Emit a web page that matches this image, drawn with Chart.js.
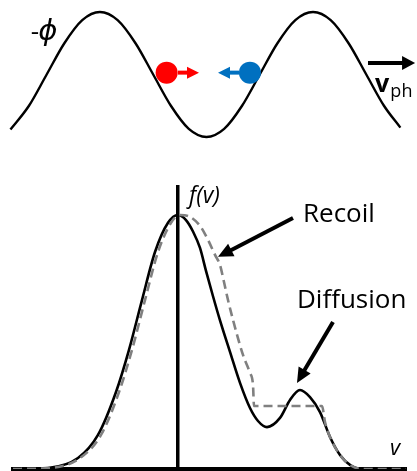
<!DOCTYPE html>
<html>
<head>
<meta charset="utf-8">
<script src="https://cdn.jsdelivr.net/npm/chart.js@4"></script>
<style>
  html, body { margin: 0; padding: 0; background: #fff; }
  #wrap { position: relative; width: 417px; height: 471px; overflow: hidden; background: #fff; }
  canvas { position: absolute; left: 0; }
  #wave { top: 0; }
  #dist { top: 150px; }
</style>
</head>
<body>
<div id="wrap">
  <canvas id="wave" width="417" height="150"></canvas>
  <canvas id="dist" width="417" height="321"></canvas>
</div>
<script>
// top panel: -phi along x, x in wavelengths (0 = first crest)
const waveX = [-0.42, -0.333, -0.25, -0.167, -0.083, 0, 0.083, 0.167, 0.25, 0.333, 0.417, 0.5,
  0.583, 0.667, 0.75, 0.833, 0.917, 1.0, 1.083, 1.167, 1.25, 1.333, 1.41];
const wavePhi = [-0.88, -0.5, 0, 0.5, 0.87, 1, 0.87, 0.5, 0, -0.5, -0.87, -1,
  -0.87, -0.5, 0, 0.5, 0.87, 1, 0.87, 0.5, 0, -0.5, -0.85];
const redDot = { x: 0.313, y: 0.03 };
const blueDot = { x: 0.704, y: 0.03 };

// bottom panel: f(v), before (solid) and after (dashed)
const solidV = [-4.125, -3.25, -2.5, -2.0, -1.55, -1.225, -0.9, -0.575, -0.25, 0, 0.2, 0.375, 0.55,
  0.7, 0.875, 1.05, 1.3, 1.55, 1.8, 2.0, 2.225, 2.55, 2.8, 3.05, 3.3, 3.55, 3.8, 4.05, 4.3, 4.6, 5.7];
const solidF = [0, 0.004, 0.043, 0.134, 0.303, 0.469, 0.665, 0.854, 0.969, 1.0, 0.98, 0.935, 0.87,
  0.78, 0.68, 0.585, 0.461, 0.339, 0.24, 0.189, 0.165, 0.201, 0.272, 0.311, 0.283, 0.224, 0.126, 0.055, 0.016, 0, 0];
const dashedV = [-4.125, -3.2, -2.45, -1.925, -1.475, -1.15, -0.825, -0.5, -0.175, 0.05, 0.25, 0.55,
  0.75, 0.925, 1.05, 1.15, 1.25, 1.375, 1.625, 1.8, 1.875, 1.9, 3.6, 3.675, 3.8, 4.05, 4.3, 4.6, 5.7];
const dashedF = [0, 0.004, 0.043, 0.134, 0.303, 0.469, 0.665, 0.854, 0.969, 1.0, 0.996, 0.957,
  0.902, 0.843, 0.803, 0.736, 0.665, 0.587, 0.449, 0.378, 0.331, 0.248, 0.248, 0.185, 0.126, 0.055, 0.016, 0, 0];

function pts(xs, ys) {
  return xs.map((x, i) => ({ x: x, y: ys[i] }));
}

function arrow(ctx, x1, y1, x2, y2, w, len, half, color) {
  const a = Math.atan2(y2 - y1, x2 - x1);
  const bx = x2 - Math.cos(a) * len, by = y2 - Math.sin(a) * len;
  ctx.save();
  ctx.strokeStyle = color;
  ctx.fillStyle = color;
  ctx.lineWidth = w;
  ctx.beginPath();
  ctx.moveTo(x1, y1);
  ctx.lineTo(bx + Math.cos(a), by + Math.sin(a));
  ctx.stroke();
  ctx.beginPath();
  ctx.moveTo(x2, y2);
  ctx.lineTo(bx - Math.sin(a) * half, by + Math.cos(a) * half);
  ctx.lineTo(bx + Math.sin(a) * half, by - Math.cos(a) * half);
  ctx.closePath();
  ctx.fill();
  ctx.restore();
}

function text(ctx, s, x, y, font, base) {
  ctx.save();
  ctx.fillStyle = '#000';
  ctx.font = font;
  ctx.textAlign = 'left';
  ctx.textBaseline = base || 'alphabetic';
  ctx.fillText(s, x, y);
  ctx.restore();
}

// annotations, placed in data units
const waveNotes = {
  id: 'waveNotes',
  afterDatasetsDraw(chart) {
    const ctx = chart.ctx, sx = chart.scales.x, sy = chart.scales.y;
    const X = (v) => sx.getPixelForValue(v), Y = (v) => sy.getPixelForValue(v);
    arrow(ctx, X(0.366), Y(0.03), X(0.465), Y(0.03), 4, 12, 6, '#ff0000');
    arrow(ctx, X(0.653), Y(0.03), X(0.554), Y(0.03), 4, 12, 6, '#0070c0');
    arrow(ctx, X(1.258), Y(0.184), X(1.479), Y(0.184), 4, 13, 7, '#000');
    text(ctx, '-', X(-0.325), Y(0.67), '26px "Open Sans", sans-serif', 'middle');
    text(ctx, '\u03D5', X(-0.29), Y(0.67), 'italic 29px "DejaVu Sans", sans-serif', 'middle');
    text(ctx, 'v', X(1.291), Y(-0.28), 'bold 25px "Open Sans", sans-serif');
    text(ctx, 'ph', X(1.363), Y(-0.36), '18px "Open Sans", sans-serif');
  }
};

const distNotes = {
  id: 'distNotes',
  afterDatasetsDraw(chart) {
    const ctx = chart.ctx, sx = chart.scales.x, sy = chart.scales.y;
    const X = (v) => sx.getPixelForValue(v), Y = (v) => sy.getPixelForValue(v);
    text(ctx, 'f(v)', X(0.275), Y(1.047), 'italic 23px "Open Sans", sans-serif');
    text(ctx, 'Recoil', X(3.125), Y(0.972), '26px "Open Sans", sans-serif');
    text(ctx, 'Diffusion', X(2.975), Y(0.634), '26px "Open Sans", sans-serif');
    text(ctx, 'v', X(5.3), Y(0.055), 'italic 22px "Open Sans", sans-serif');
    arrow(ctx, X(2.875), Y(0.988), X(1.0), Y(0.835), 4, 15, 7, '#000');
    arrow(ctx, X(3.875), Y(0.579), X(2.975), Y(0.339), 4, 15, 7, '#000');
  }
};

new Chart(document.getElementById('wave'), {
  type: 'line',
  data: {
    datasets: [
      { type: 'scatter', data: [redDot], pointRadius: 11, pointBackgroundColor: '#ff0000', pointBorderWidth: 0, order: 0 },
      { type: 'scatter', data: [blueDot], pointRadius: 11, pointBackgroundColor: '#0070c0', pointBorderWidth: 0, order: 0 },
      { data: pts(waveX, wavePhi), borderColor: '#000', borderWidth: 2.4, pointRadius: 0,
        cubicInterpolationMode: 'monotone', order: 1 }
    ]
  },
  options: {
    responsive: false,
    animation: false,
    events: [],
    layout: { padding: 0, autoPadding: false },
    plugins: { legend: { display: false }, tooltip: { enabled: false } },
    scales: {
      x: { type: 'linear', display: false, min: -0.469, max: 1.488 },
      y: { display: false, min: -1.208, max: 1.192 }
    }
  },
  plugins: [waveNotes]
});

new Chart(document.getElementById('dist'), {
  type: 'line',
  data: {
    datasets: [
      { data: pts(dashedV, dashedF), borderColor: '#808080', borderWidth: 2.6, borderDash: [9, 5],
        pointRadius: 0, cubicInterpolationMode: 'monotone', order: 0 },
      { data: pts(solidV, solidF), borderColor: '#000', borderWidth: 2.6, pointRadius: 0,
        cubicInterpolationMode: 'monotone', order: 1 }
    ]
  },
  options: {
    responsive: false,
    animation: false,
    events: [],
    layout: { padding: { left: 13, right: 11, top: 37, bottom: 2 }, autoPadding: false },
    plugins: { legend: { display: false }, tooltip: { enabled: false } },
    scales: {
      x: {
        type: 'linear', min: -4.125, max: 5.7,
        ticks: { display: false },
        grid: { display: false, drawTicks: false },
        border: { display: true, color: '#000', width: 4 }
      },
      y: {
        type: 'linear', position: { x: 0 }, min: 0, max: 1.11,
        ticks: { display: false },
        grid: { display: false, drawTicks: false },
        border: { display: true, color: '#000', width: 3.5 }
      }
    }
  },
  plugins: [distNotes]
});
</script>
</body>
</html>
